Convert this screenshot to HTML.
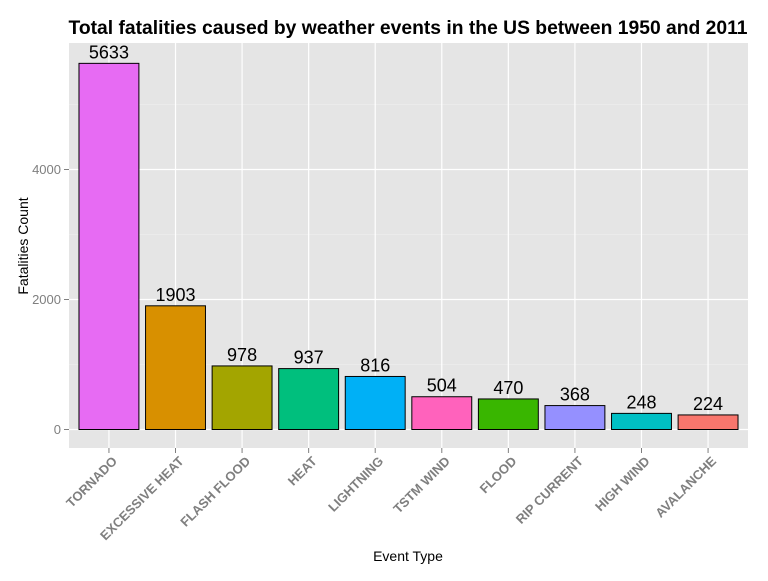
<!DOCTYPE html>
<html><head><meta charset="utf-8"><style>
body{margin:0;background:#fff;width:768px;height:576px;overflow:hidden;font-family:"Liberation Sans",Arial,sans-serif}
</style></head><body>
<svg id="chart" width="768" height="576" xmlns="http://www.w3.org/2000/svg">
<text x="408" y="34" text-anchor="middle" font-size="19.3" font-weight="bold" fill="#000">Total fatalities caused by weather events in the US between 1950 and 2011</text>
<rect x="69" y="43" width="679" height="405" fill="#e5e5e5"/>
<g id="grid"></g><g id="bars"></g><g id="axes"></g>
<text x="408" y="561" text-anchor="middle" font-size="14" fill="#000">Event Type</text>
<text transform="translate(28,246) rotate(-90)" text-anchor="middle" font-size="14" fill="#000">Fatalities Count</text>
</svg>
<script>
const categories=["TORNADO","EXCESSIVE HEAT","FLASH FLOOD","HEAT","LIGHTNING","TSTM WIND","FLOOD","RIP CURRENT","HIGH WIND","AVALANCHE"];
const values=[5633,1903,978,937,816,504,470,368,248,224];
const colors=["#e76bf3","#d89000","#a3a500","#00bf7d","#00b0f6","#ff62bc","#39b600","#9590ff","#00bfc4","#f8766d"];
const yTicks=[0,2000,4000];
const NS="http://www.w3.org/2000/svg";
const L=69,R=748,T=43,B=448;
const y0=429.5,k=260/4000;
function y(v){return y0-v*k;}
const step=(R-L)/(categories.length-1+1.2);
function x(i){return L+(0.6+i)*step;}
function mk(t,a,p){const e=document.createElementNS(NS,t);for(const n in a)e.setAttribute(n,a[n]);p.appendChild(e);return e;}
const grid=document.getElementById('grid'),bars=document.getElementById('bars'),axes=document.getElementById('axes');
for(let v=-1000;v<=7000;v+=2000){const yy=y(v);if(yy<T||yy>B)continue;
const g=mk('line',{x1:L,x2:R,y1:yy,y2:yy,stroke:'#f2f2f2','stroke-width':0.6},grid);

}
yTicks.forEach(v=>{const yy=y(v);
const g=mk('line',{x1:L,x2:R,y1:yy,y2:yy,stroke:'#fff','stroke-width':1.2},grid);


const t=mk('line',{x1:L-5,x2:L,y1:yy,y2:yy,stroke:'#7f7f7f','stroke-width':1},axes);


const l=mk('text',{x:L-8,y:yy+4.5,'text-anchor':'end','font-size':13,fill:'#7f7f7f'},axes);l.textContent=v;

});
categories.forEach((c,i)=>{const cx=x(i);
const g=mk('line',{x1:cx,x2:cx,y1:T,y2:B,stroke:'#fff','stroke-width':1.2},grid);


const w=0.9*step;
const b=mk('rect',{x:cx-w/2,y:y(values[i]),width:w,height:y0-y(values[i]),fill:colors[i],stroke:'#000','stroke-width':1},bars);


const v=mk('text',{x:cx,y:y(values[i])-5,'text-anchor':'middle','font-size':18,fill:'#000'},bars);v.textContent=values[i];


const t=mk('line',{x1:cx,x2:cx,y1:B,y2:B+5,stroke:'#7f7f7f','stroke-width':1},axes);


const l=mk('text',{transform:`translate(${cx+9},${B+14}) rotate(-45)`,'text-anchor':'end','font-size':13,'font-weight':'bold',fill:'#7f7f7f'},axes);l.textContent=c;

});
</script>
</body></html>
